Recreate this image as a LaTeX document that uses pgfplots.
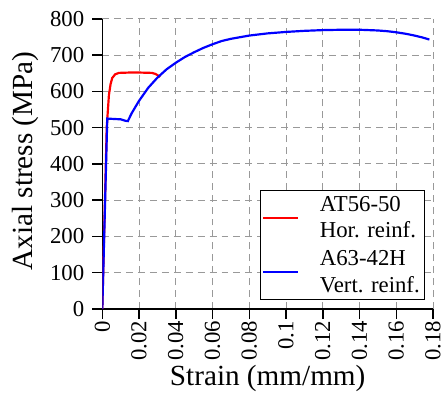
\documentclass[border=0pt]{standalone}
\usepackage{pgfplots}
\pgfplotsset{compat=1.18}
\usepackage{fontspec}
\setmainfont{Liberation Serif}
\newfontfamily\tnr{Liberation Serif}
\begin{document}
\begin{tikzpicture}
\begin{axis}[
  scale only axis,
  width=333bp, height=292bp,
  xmin=0, xmax=0.18, ymin=0, ymax=800,
  axis x line*=bottom, axis y line*=left,
  axis line style={line width=1.6bp, -},
  xtick={0,0.02,0.04,0.06,0.08,0.1,0.12,0.14,0.16,0.18},
  ytick={0,100,...,800},
  scaled x ticks=false,
  xticklabel style={/pgf/number format/fixed, /pgf/number format/precision=2, rotate=90, anchor=east, inner sep=2bp},
  yticklabel style={anchor=east, inner sep=0bp, xshift=-8bp},
  /pgf/number format/assume math mode=true,
  tick align=outside,
  major tick length=10bp,
  tick style={line width=1.4bp, black},
  ticklabel style={font=\tnr\fontsize{23}{27}\selectfont},
  grid=major,
  major grid style={dashed, dash pattern=on 7bp off 5bp, gray!80, line width=0.9bp},
  label style={font=\tnr\fontsize{29.5}{33}\selectfont},
  xlabel={Strain (mm/mm)},
  ylabel={Axial stress (MPa)},
  xlabel style={at={(axis description cs:0.5,-0.24)}, anchor=center},
  ylabel style={at={(axis description cs:-0.231,0.51)}, anchor=center},
  legend cell align=left,
  legend style={at={(rel axis cs:1,0)}, anchor=south east, xshift=-8bp, yshift=9bp,
    draw=black, line width=0.8bp,
    font=\tnr\fontsize{23}{27}\selectfont,
    nodes={align=left, inner sep=3bp},
    row sep=5bp, inner xsep=2bp, inner ysep=3bp,
    /tikz/every odd column/.append style={column sep=18bp}},
  legend image code/.code={\draw[#1, line width=2bp] (0bp,0bp) -- (35bp,0bp);},
]
\addplot[red, line width=2.2bp] coordinates {
(0,0) (0.0024,500) (0.0027,523) (0.0036,590) (0.0045,620) (0.0054,637) (0.007,647)
(0.009,651) (0.015,652) (0.02,652) (0.027,651) (0.029,648) (0.0315,640)
};
\addlegendentry{AT56-50\\Hor. reinf.}
\addplot[blue, line width=2.2bp] coordinates {
(0,0) (0.0027,525) (0.006,524) (0.01,523) (0.0125,519) (0.0139,518)
(0.016,540) (0.02,574) (0.025,610) (0.03,638) (0.035,661) (0.04,679)
(0.045,695) (0.05,708) (0.055,720) (0.06,730) (0.065,739) (0.07,745)
(0.08,754) (0.09,760)
(0.1,764) (0.11,767) (0.12,769) (0.13,770) (0.14,770) (0.15,768)
(0.155,766) (0.16,763) (0.165,759) (0.169,755) (0.174,749) (0.178,743)
};
\addlegendentry{A63-42H\\Vert. reinf.}
\end{axis}
\path ([xshift=-103bp,yshift=-87bp]current axis.south west) rectangle ([xshift=12bp,yshift=19bp]current axis.north east);
\end{tikzpicture}
\end{document}
